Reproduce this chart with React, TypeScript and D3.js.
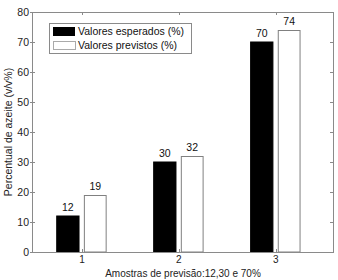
import React from "react";
import * as d3 from "d3";

const categories = [1, 2, 3];
const esperados = [12, 30, 70];
const previstos = [19, 32, 74];
const yTicks = [0, 10, 20, 30, 40, 50, 60, 70, 80];
const seriesNames = ["Valores esperados (%)", "Valores previstos (%)"];

export default function App() {
  const W = 338, H = 280;
  const left = 32, right = 334, top = 12, bottom = 252;
  const x = d3.scaleLinear().domain([0.485, 3.6]).range([left, right]);
  const y = d3.scaleLinear().domain([0, 80]).range([bottom, top]);
  const axisColor = "#8a8a8a";
  const font = "'Liberation Sans', Arial, sans-serif";
  const blackOff: [number, number] = [-0.26, -0.03];
  const whiteOff: [number, number] = [0.02, 0.255];
  return (
    <svg width={W} height={H} style={{ position: "absolute", left: 0, top: 0 }} fontFamily={font}>
      <rect x={0} y={0} width={W} height={H} fill="#fff" />
      {/* bars */}
      {categories.map((c, i) => (
        <g key={c}>
          <rect x={x(c + blackOff[0])} y={y(esperados[i])} width={x(c + blackOff[1]) - x(c + blackOff[0])}
            height={y(0) - y(esperados[i])} fill="#000" stroke="#000" strokeWidth={1} />
          <rect x={x(c + whiteOff[0]) + 0.5} y={y(previstos[i]) + 0.5} width={x(c + whiteOff[1]) - x(c + whiteOff[0]) - 1}
            height={y(0) - y(previstos[i]) - 0.5} fill="#fff" stroke="#808080" strokeWidth={1} />
          <text x={x(c + (blackOff[0] + blackOff[1]) / 2)} y={y(esperados[i]) - 5} fontSize={10.5} textAnchor="middle" fill="#111">{esperados[i]}</text>
          <text x={x(c + (whiteOff[0] + whiteOff[1]) / 2)} y={y(previstos[i]) - 5} fontSize={10.5} textAnchor="middle" fill="#111">{previstos[i]}</text>
        </g>
      ))}
      {/* axes box */}
      <rect x={left + 0.5} y={top + 0.5} width={right - left - 1} height={bottom - top} fill="none" stroke={axisColor} strokeWidth={1} />
      {yTicks.map((t) => (
        <g key={t}>
          <line x1={left - 2} x2={left + 3} y1={Math.round(y(t)) + 0.5} y2={Math.round(y(t)) + 0.5} stroke={axisColor} />
          <line x1={right - 4} x2={right} y1={Math.round(y(t)) + 0.5} y2={Math.round(y(t)) + 0.5} stroke={axisColor} />
          <text x={left - 3} y={y(t) + 4} fontSize={10.5} textAnchor="end" fill="#222">{t}</text>
        </g>
      ))}
      {categories.map((c) => (
        <g key={"xt" + c}>
          <line x1={Math.round(x(c)) + 0.5} x2={Math.round(x(c)) + 0.5} y1={bottom} y2={bottom - 3} stroke={axisColor} />
          <line x1={Math.round(x(c)) + 0.5} x2={Math.round(x(c)) + 0.5} y1={top} y2={top + 3} stroke={axisColor} />
          <text x={x(c)} y={bottom + 11} fontSize={10} textAnchor="middle" fill="#222">{c}</text>
        </g>
      ))}
      {/* labels */}
      <text x={183} y={277} fontSize={10} textAnchor="middle" fill="#222">Amostras de previsão:12,30 e 70%</text>
      <text transform={`translate(12, 132) rotate(-90)`} fontSize={10.5} textAnchor="middle" fill="#222">Percentual de azeite (v/v%)</text>
      {/* legend */}
      <g>
        <rect x={49.5} y={23.5} width={142} height={30} fill="#fff" stroke={axisColor} />
        <rect x={53} y={27} width={22} height={9} fill="#000" />
        <rect x={53.5} y={41.5} width={22} height={8} fill="#fff" stroke="#aaa" />
        <text x={78} y={35} fontSize={10.5} fill="#111">{seriesNames[0]}</text>
        <text x={78} y={49} fontSize={10.5} fill="#111">{seriesNames[1]}</text>
      </g>
    </svg>
  );
}
